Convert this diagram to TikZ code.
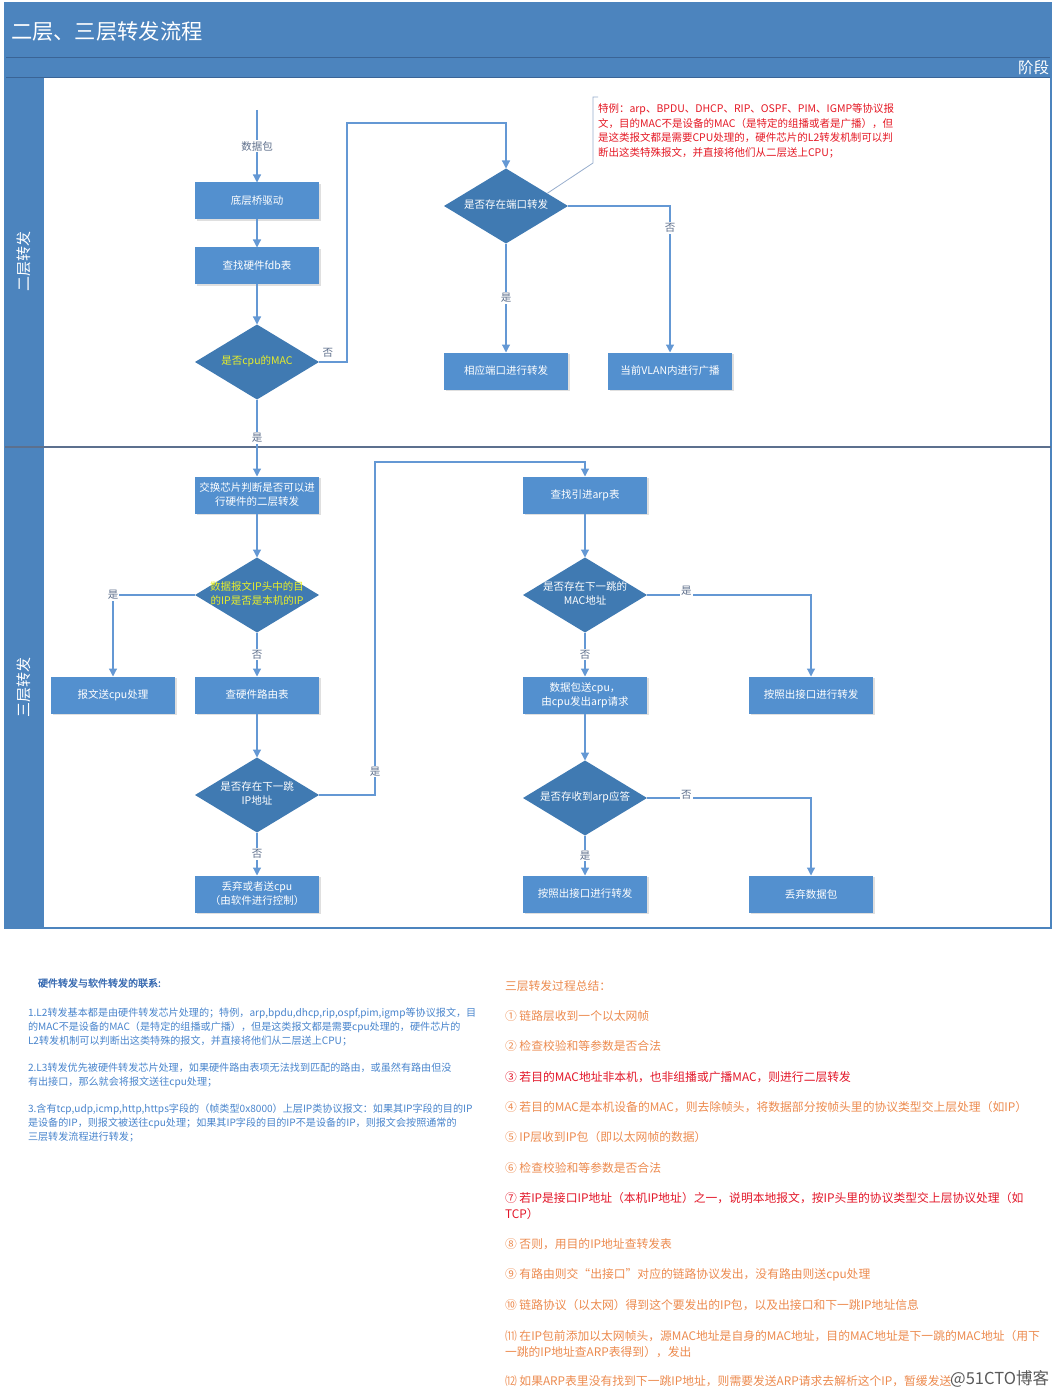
\documentclass[tikz,border=0pt]{standalone}
\usepackage{fontspec}
\newfontfamily\cjk[AutoFakeBold=2]{Noto Sans CJK SC}
\usetikzlibrary{shapes.geometric,arrows.meta,shadows}
\definecolor{hdrblue}{RGB}{76,132,190}
\definecolor{hdrline}{RGB}{58,100,150}
\definecolor{boxblue}{RGB}{83,144,207}
\definecolor{diablue}{RGB}{64,122,178}
\definecolor{lineblue}{RGB}{100,152,212}
\definecolor{lblgray}{RGB}{95,112,140}
\definecolor{dyellow}{RGB}{232,238,40}
\definecolor{notered}{RGB}{228,24,36}
\definecolor{notebr}{RGB}{150,172,204}
\definecolor{divgray}{RGB}{92,112,142}
\definecolor{lkblue}{RGB}{72,132,204}
\definecolor{lkhead}{RGB}{58,108,178}
\definecolor{sumorange}{RGB}{236,138,78}
\definecolor{sumred}{RGB}{226,22,40}
\newcommand{\diatext}[1]{\makebox[0pt]{\begin{tabular}{@{}c@{}}#1\end{tabular}}}

\begin{document}
\begin{tikzpicture}[x=1pt,y=-1pt,inner sep=0pt,outer sep=0pt,
every node/.style={font=\cjk},
>={Triangle[length=8pt,width=8pt]},
procbox/.style={rectangle,fill=boxblue,text=white,minimum width=124pt,minimum height=37pt,align=center,
  font=\cjk\fontsize{10.5}{14}\selectfont,drop shadow={shadow xshift=1.5pt,shadow yshift=-1.5pt,opacity=0.25}},
decbox/.style={diamond,fill=diablue,text=white,minimum width=124pt,minimum height=75pt,
  font=\cjk\fontsize{10.5}{14}\selectfont},
flow/.style={draw=lineblue,line width=1.2pt,->},
lbl/.style={fill=white,text=lblgray,inner sep=1pt,font=\cjk\fontsize{10.5}{12}\selectfont},
lanetext/.style={text=white,font=\cjk\fontsize{15}{17}\selectfont},
notetext/.style={text=notered,align=left,font=\cjk\fontsize{10.5}{14.4}\selectfont},
linktext/.style={text=lkblue,align=left,font=\cjk\fontsize{10.1}{14}\selectfont},
sumtext/.style={text=sumorange,anchor=west,font=\cjk\fontsize{11.8}{16}\selectfont}]

\useasboundingbox (0,0) rectangle (1057,1396);

% frame and lanes
\fill[hdrblue] (5,3) rectangle (1051,78);
\fill[hdrblue] (5,78) rectangle (44,928);
\draw[hdrline,line width=1pt] (5,58) -- (1051,58);
\draw[hdrline,line width=1pt] (5,78) -- (1051,78);
\draw[hdrblue,line width=1.5pt] (5,3) rectangle (1051,928);
\draw[divgray,line width=1.5pt] (5,447) -- (1051,447);
\node[text=white,anchor=west,font=\cjk\fontsize{21.3}{23}\selectfont] (title) at (11,31) {二层、三层转发流程};
\node[text=white,anchor=east,font=\cjk\fontsize{15.5}{17}\selectfont] (phase) at (1049,68) {阶段};
\node[lanetext,rotate=90] (lanetwo) at (24,262) {二层转发};
\node[lanetext,rotate=90] (lanethree) at (24,687) {三层转发};

% layer 2
\draw (257,201) node[procbox] (qudong) {底层桥驱动};
\draw (257,266) node[procbox] (fdb) {查找硬件fdb表};
\draw (257,362) node[decbox,text=dyellow] (iscpu) {\diatext{是否cpu的MAC}};
\draw (506,206) node[decbox] (portfw) {\diatext{是否存在端口转发}};
\draw (506,371) node[procbox] (portout) {相应端口进行转发};
\draw (670,371) node[procbox] (bcast) {当前VLAN内进行广播};
\draw (598,104) node[notetext,anchor=north west] (special)
  {特例：arp、BPDU、DHCP、RIP、OSPF、PIM、IGMP等协议报\\
   文，目的MAC不是设备的MAC（是特定的组播或者是广播），但\\
   是这类报文都是需要CPU处理的，硬件芯片的L2转发机制可以判\\
   断出这类特殊报文，并直接将他们从二层送上CPU；};
\coordinate (pktin) at (257,110);
\coordinate (k1) at (347,123);
\coordinate (brtop) at (593,97);
\coordinate (brbot) at (593,163);

\draw[flow] (pktin) -- node[lbl] {数据包} (qudong.north);
\draw[flow] (qudong) -- (fdb);
\draw[flow] (fdb) -- (iscpu);
\draw[flow] (iscpu.east) -| node[lbl,pos=0.16,above=4pt] {否} (k1) -| (portfw.north);
\draw[flow] (portfw) -- node[lbl] {是} (portout);
\draw[flow] (portfw.east) -| node[lbl,pos=0.575] {否} (bcast.north);
\draw[notebr,line width=0.8pt] (portfw.17) -- (brbot) -- (brtop) -- ++(5,0);

% layer 3
\draw (257,495) node[procbox] (l2chk) {交换芯片判断是否可以进\\行硬件的二层转发};
\draw (257,595) node[decbox,text=dyellow] (isme) {\diatext{数据报文IP头中的目\\的IP是否是本机的IP}};
\draw (113,695) node[procbox] (tocpu) {报文送cpu处理};
\draw (257,695) node[procbox] (route) {查硬件路由表};
\draw (257,795) node[decbox] (nexthop) {\diatext{是否存在下一跳\\IP地址}};
\draw (257,894) node[procbox] (drop1) {丢弃或者送cpu\\（由软件进行控制）};
\draw (585,495) node[procbox] (arptab) {查找引进arp表};
\draw (585,595) node[decbox] (hasmac) {\diatext{是否存在下一跳的\\MAC地址}};
\draw (585,695) node[procbox] (arpreq) {数据包送cpu，\\由cpu发出arp请求};
\draw (811,695) node[procbox] (fwd1) {按照出接口进行转发};
\draw (585,798) node[decbox] (arpack) {\diatext{是否存收到arp应答}};
\draw (585,894) node[procbox] (fwd2) {按照出接口进行转发};
\draw (811,894) node[procbox] (drop2) {丢弃数据包};
\coordinate (k2) at (375,462);

\draw[flow] (iscpu) -- node[lbl] {是} (l2chk);
\draw[flow] (l2chk) -- (isme);
\draw[flow] (isme.west) -| node[lbl] {是} (tocpu.north);
\draw[flow] (isme) -- node[lbl] {否} (route);
\draw[flow] (route) -- (nexthop);
\draw[flow] (nexthop.east) -| node[lbl,pos=0.535] {是} (k2) -| (arptab.north);
\draw[flow] (nexthop) -- node[lbl] {否} (drop1);
\draw[flow] (arptab) -- (hasmac);
\draw[flow] (hasmac.east) -| node[lbl,pos=0.12,yshift=4pt] {是} (fwd1.north);
\draw[flow] (hasmac) -- node[lbl] {否} (arpreq);
\draw[flow] (arpreq) -- (arpack);
\draw[flow] (arpack.east) -| node[lbl,pos=0.12,yshift=3pt] {否} (drop2.north);
\draw[flow] (arpack) -- node[lbl] {是} (fwd2);

% notes below
\node[text=lkhead,anchor=west,font=\cjk\fontsize{10}{12}\selectfont\bfseries] (lkhd) at (38,983) {硬件转发与软件转发的联系:};
\node[linktext,anchor=north west] (lkone) at (28,1008)
  {1.L2转发基本都是由硬件转发芯片处理的；特例，arp,bpdu,dhcp,rip,ospf,pim,igmp等协议报文，目\\
   的MAC不是设备的MAC（是特定的组播或广播），但是这类报文都是需要cpu处理的，硬件芯片的\\
   L2转发机制可以判断出这类特殊的报文，并直接将他们从二层送上CPU；};
\node[linktext,anchor=north west] (lktwo) at (28,1063)
  {2.L3转发优先被硬件转发芯片处理，如果硬件路由表项无法找到匹配的路由，或虽然有路由但没\\
   有出接口，那么就会将报文送往cpu处理；};
\node[linktext,anchor=north west] (lkthree) at (28,1104)
  {3.含有tcp,udp,icmp,http,https字段的（帧类型0x8000）上层IP类协议报文：如果其IP字段的目的IP\\
   是设备的IP，则报文被送往cpu处理；如果其IP字段的目的IP不是设备的IP，则报文会按照通常的\\
   三层转发流程进行转发；};

\node[sumtext] (sumhd) at (505,986) {三层转发过程总结：};
\node[sumtext] (sum1) at (505,1016) {① 链路层收到一个以太网帧};
\node[sumtext] (sum2) at (505,1046) {② 检查校验和等参数是否合法};
\node[sumtext,text=sumred] (sum3) at (505,1077) {③ 若目的MAC地址非本机，也非组播或广播MAC，则进行二层转发};
\node[sumtext] (sum4) at (505,1107) {④ 若目的MAC是本机设备的MAC，则去除帧头，将数据部分按帧头里的协议类型交上层处理（如IP）};
\node[sumtext] (sum5) at (505,1137) {⑤ IP层收到IP包（即以太网帧的数据）};
\node[sumtext] (sum6) at (505,1168) {⑥ 检查校验和等参数是否合法};
\node[sumtext,text=sumred,anchor=north west,align=left] (sum7) at (505,1192) {⑦ 若IP是接口IP地址（本机IP地址）之一，说明本地报文，按IP头里的协议类型交上层协议处理（如\\TCP）};
\node[sumtext] (sum8) at (505,1244) {⑧ 否则，用目的IP地址查转发表};
\node[sumtext] (sum9) at (505,1275) {⑨ 有路由则交“出接口”对应的链路协议发出，没有路由则送cpu处理};
\node[sumtext] (sum10) at (505,1305) {⑩ 链路协议（以太网）得到这个要发出的IP包，以及出接口和下一跳IP地址信息};
\node[sumtext,anchor=north west,align=left] (sum11) at (505,1330) {⑾ 在IP包前添加以太网帧头，源MAC地址是自身的MAC地址，目的MAC地址是下一跳的MAC地址（用下\\一跳的IP地址查ARP表得到），发出};
\node[sumtext] (sum12) at (505,1381) {⑿ 如果ARP表里没有找到下一跳IP地址，则需要发送ARP请求去解析这个IP，暂缓发送};
\node[anchor=east,text=black!65,font=\cjk\fontsize{16.5}{18}\selectfont] (wmark) at (1049,1379) {@51CTO博客};

\end{tikzpicture}
\end{document}
